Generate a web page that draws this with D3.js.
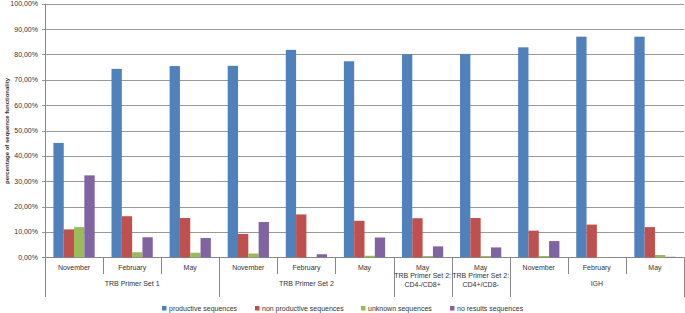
<!DOCTYPE html>
<html>
<head>
<meta charset="utf-8">
<script src="https://cdn.jsdelivr.net/npm/d3@7"></script>
<style>
  body { margin: 0; background: #fff; }
  svg { display: block; font-family: "Liberation Sans", Arial, sans-serif; }
</style>
</head>
<body>
<div id="chart"></div>
<script>
const months = ["November", "February", "May", "November", "February", "May", "May", "May", "November", "February", "May"];
const groupLabels = [["TRB Primer Set 1"], ["TRB Primer Set 2"], ["TRB Primer Set 2:", "CD4-/CD8+"], ["TRB Primer Set 2:", "CD4+/CD8-"], ["IGH"]];
const groupSpans = [3, 3, 1, 1, 3];

const seriesNames = ["productive sequences", "non productive sequences", "unknown sequences", "no results sequences"];
const productive    = [45.1, 74.3, 75.4, 75.5, 81.8, 77.3, 80.1, 80.2, 82.8, 87.0, 87.0];
const nonProductive = [11.0, 16.2, 15.5, 9.2, 16.9, 14.4, 15.4, 15.5, 10.5, 12.9, 11.9];
const unknown       = [11.9, 2.0, 1.8, 1.5, 0.0, 0.6, 0.5, 0.5, 0.5, 0.1, 0.9];
const noResults     = [32.3, 7.9, 7.6, 13.9, 1.2, 7.8, 4.3, 3.9, 6.4, 0.0, 0.2];
const yTicks = [0, 10, 20, 30, 40, 50, 60, 70, 80, 90, 100];

const colors = ["#4F81BD", "#C0504D", "#9BBB59", "#8064A2"];
const values = [productive, nonProductive, unknown, noResults];

const W = 685, H = 313;
const plotLeft = 45, plotRight = 684, plotTop = 3.7, plotBottom = 257.3;

const svg = d3.select("#chart").append("svg")
    .attr("width", W)
    .attr("height", H);

svg.append("rect").attr("width", W).attr("height", H).attr("fill", "#fff");

const x0 = d3.scaleBand()
    .domain(d3.range(months.length))
    .range([plotLeft, plotRight]);

const bw = x0.bandwidth();
const x1 = d3.scaleBand()
    .domain(d3.range(seriesNames.length))
    .range([bw * 0.145, bw * 0.855]);

const y = d3.scaleLinear()
    .domain([0, 100])
    .range([plotBottom, plotTop]);

const fmt = v => d3.format(".2f")(v).replace(".", ",") + "%";

// grid lines
svg.append("g")
    .selectAll("line")
    .data(yTicks)
    .enter()
    .append("line")
    .attr("x1", plotLeft - 3)
    .attr("x2", plotRight)
    .attr("y1", d => Math.round(y(d)) + 0.5)
    .attr("y2", d => Math.round(y(d)) + 0.5)
    .attr("stroke", d => d === 0 ? "#888" : "#999")
    .attr("stroke-width", 1);

svg.append("g")
    .selectAll("text")
    .data(yTicks)
    .enter()
    .append("text")
    .attr("x", 38)
    .attr("y", d => y(d) + 2.5)
    .attr("text-anchor", "end")
    .style("font-size", "7px")
    .attr("fill", "#333")
    .text(d => fmt(d));

// bars
const barGroups = svg.append("g")
    .selectAll("g")
    .data(months.map((m, i) => i))
    .enter()
    .append("g")
    .attr("transform", i => `translate(${x0(i)},0)`);

barGroups.selectAll("rect")
    .data(i => values.map((s, k) => ({ k: k, v: s[i] })))
    .enter()
    .append("rect")
    .attr("x", d => x1(d.k))
    .attr("y", d => y(d.v))
    .attr("width", x1.bandwidth())
    .attr("height", d => plotBottom - y(d.v))
    .attr("fill", d => colors[d.k]);

// axis lines
const axis = svg.append("g").attr("stroke", "#888").attr("stroke-width", 1);
axis.append("line")
    .attr("x1", plotLeft + 0.5).attr("x2", plotLeft + 0.5)
    .attr("y1", plotTop).attr("y2", 297);

// category separators
let boundaries = [0];
groupSpans.forEach(s => boundaries.push(boundaries[boundaries.length - 1] + s));
for (let i = 1; i <= months.length; i++) {
    const xx = Math.round(i < months.length ? x0(i) : plotRight) + 0.5;
    const isGroup = boundaries.includes(i);
    axis.append("line")
        .attr("x1", xx).attr("x2", xx)
        .attr("y1", plotBottom)
        .attr("y2", isGroup ? 297 : 274);
}

svg.append("g")
    .selectAll("text")
    .data(months)
    .enter()
    .append("text")
    .attr("x", (d, i) => x0(i) + bw / 2)
    .attr("y", 269.5)
    .attr("text-anchor", "middle")
    .style("font-size", "7px")
    .attr("fill", "#333")
    .text(d => d);

groupLabels.forEach((lines, g) => {
    const cx = (x0(boundaries[g]) + (boundaries[g + 1] < months.length ? x0(boundaries[g + 1]) : plotRight)) / 2;
    const t = svg.append("text")
        .attr("text-anchor", "middle")
        .style("font-size", "7px")
        .attr("fill", "#333");
    if (lines.length === 1) {
        t.append("tspan").attr("x", cx).attr("y", 285.5).text(lines[0]);
    } else {
        t.append("tspan").attr("x", cx).attr("y", 278).text(lines[0]);
        t.append("tspan").attr("x", cx).attr("y", 287).text(lines[1]);
    }
});

// y title
svg.append("text")
    .attr("transform", `translate(8.5, 131) rotate(-90)`)
    .attr("text-anchor", "middle")
    .style("font-size", "6px")
    .style("font-weight", "bold")
    .attr("fill", "#333")
    .text("percentage of sequence functionality");

// legend
const legendX = [162, 255, 361, 450];
const legend = svg.append("g")
    .selectAll("g")
    .data(seriesNames)
    .enter()
    .append("g")
    .attr("transform", (d, i) => `translate(${legendX[i]}, 306)`);

legend.append("rect")
    .attr("width", 4.5)
    .attr("height", 4.5)
    .attr("fill", (d, i) => colors[i]);

legend.append("text")
    .attr("x", 7)
    .attr("y", 4.5)
    .style("font-size", "7px")
    .attr("fill", "#333")
    .text(d => d);
</script>
</body>
</html>
